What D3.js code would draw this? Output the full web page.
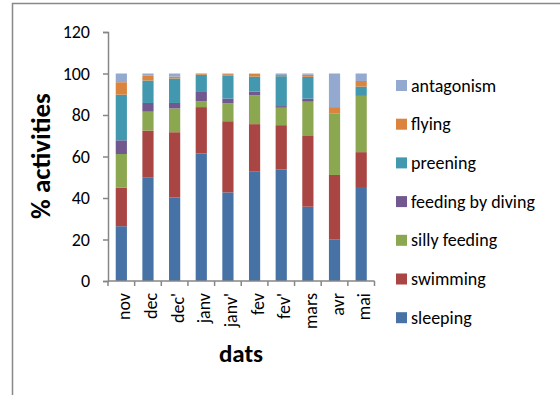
<!DOCTYPE html>
<html><head><meta charset="utf-8">
<script src="https://cdn.jsdelivr.net/npm/d3@7"></script>
<style>body{margin:0;background:#fff}svg{display:block}text{font-family:Carlito,"Open Sans",sans-serif}</style>
</head><body><svg id="c" width="560" height="395"></svg>
<script>
const categories = ["nov","dec","dec'","janv","janv'","fev","fev'","mars","avr","mai"];
const seriesNames = ["sleeping","swimming","silly feeding","feeding by diving","preening","flying","antagonism"];
const sleeping   = [26.4, 50.0, 40.3, 61.5, 42.7, 52.9, 53.7, 35.8, 20.1, 45.3];
const swimming   = [18.6, 22.5, 31.4, 22.3, 34.3, 22.7, 21.4, 34.4, 31.0, 16.8];
const sillyFeeding = [16.2, 9.1, 11.5, 2.8, 8.6, 13.9, 8.4, 16.2, 29.5, 27.1];
const feedingByDiving = [6.6, 4.2, 2.6, 4.5, 2.3, 1.8, 0.8, 1.5, 0, 0];
const preening   = [22.0, 10.8, 11.8, 8.3, 11.0, 7.2, 14.4, 10.5, 0, 4.5];
const flying     = [6.0, 2.3, 0.9, 0.6, 0.8, 1.3, 0.6, 1.0, 3.2, 2.7];
const antagonism = [4.2, 1.1, 1.5, 0.0, 0.3, 0.2, 0.7, 0.6, 16.2, 3.6];
const yTicks = [0,20,40,60,80,100,120];
const colors = ["#4672A6","#A94543","#8BA74F","#71588F","#4298AF","#DB843D","#93A9CF"];

const seriesVals = [sleeping, swimming, sillyFeeding, feedingByDiving, preening, flying, antagonism];
const rows = categories.map((c,i)=>{const o={cat:c}; seriesNames.forEach((s,j)=>o[s]=seriesVals[j][i]); return o;});
const stacked = d3.stack().keys(seriesNames)(rows);

const svg = d3.select("#c");
svg.append("path").attr("d","M12.5,395 L12.5,3.5 L560,3.5").attr("fill","none").attr("stroke","#888").attr("stroke-width",1.5);

const x = d3.scaleBand().domain(categories).range([108,374.5]).paddingInner(0.58).paddingOuter(0.29);
const y = d3.scaleLinear().domain([0,120]).range([281,32]);

const g = svg.append("g");
g.selectAll("g.s").data(stacked).join("g").attr("fill",(d,i)=>colors[i])
 .selectAll("rect").data(d=>d).join("rect")
 .attr("x",d=>x(d.data.cat)).attr("width",x.bandwidth())
 .attr("y",d=>y(d[1])).attr("height",d=>Math.max(0,y(d[0])-y(d[1])));

const ya = svg.append("g").attr("transform","translate(108,0)")
 .call(d3.axisLeft(y).tickValues(yTicks).tickSize(5).tickPadding(13));
ya.select(".domain").attr("stroke","#868686").attr("stroke-width",1.5);
ya.selectAll(".tick line").attr("stroke","#868686").attr("stroke-width",1.5);
ya.selectAll("text").attr("font-size",18).attr("fill","#000");

const xb = d3.scaleBand().domain(categories).range([108,374.5]);
const xa = svg.append("g").attr("transform","translate(0,281)");
xa.append("line").attr("x1",108).attr("x2",374.5).attr("y1",0).attr("y2",0).attr("stroke","#868686").attr("stroke-width",1.5);
xa.selectAll("line.t").data(d3.range(categories.length+1)).join("line")
 .attr("x1",i=>108+i*xb.step()).attr("x2",i=>108+i*xb.step()).attr("y1",0).attr("y2",5)
 .attr("stroke","#868686").attr("stroke-width",1.5);
xa.selectAll("text").data(categories).join("text")
 .attr("transform",d=>`translate(${xb(d)+xb.bandwidth()/2+9},12) rotate(-90)`)
 .attr("text-anchor","end").attr("font-size",18).text(d=>d);

svg.append("text").attr("transform","translate(50,156) rotate(-90)").attr("text-anchor","middle")
 .attr("font-size",27).attr("font-weight","bold").text("% activities");
svg.append("text").attr("x",241).attr("y",362).attr("text-anchor","middle")
 .attr("font-size",25).attr("font-weight","bold").text("dats");

const legOrder = seriesNames.slice().reverse();
const lg = svg.append("g");
legOrder.forEach((s,i)=>{
  const cy = 85.5 + i*38.7;
  const ci = seriesNames.indexOf(s);
  lg.append("rect").attr("x",396).attr("y",cy-5.5).attr("width",11).attr("height",11).attr("fill",colors[ci]);
  lg.append("text").attr("x",411).attr("y",cy+6).attr("font-size",18).text(s);
});
</script></body></html>
